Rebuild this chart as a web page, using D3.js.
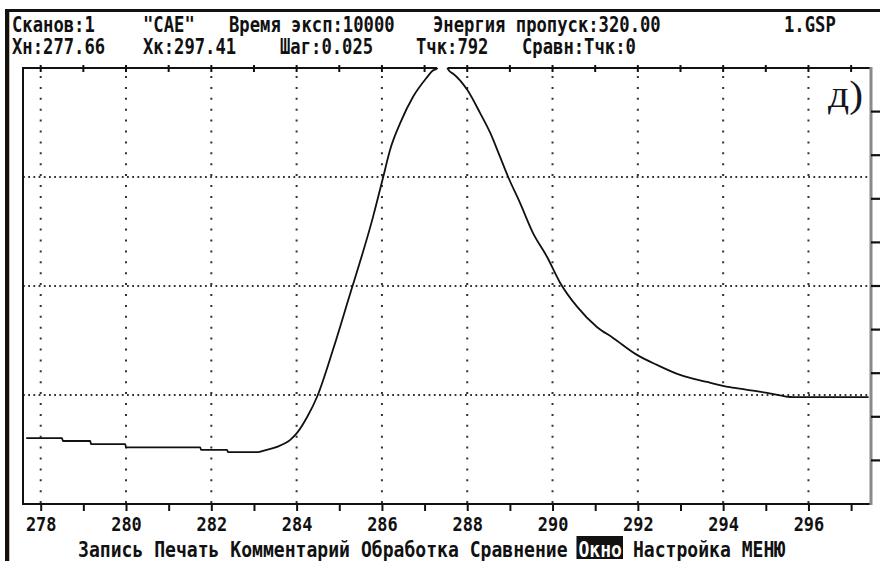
<!DOCTYPE html>
<html>
<head>
<meta charset="utf-8">
<script src="https://cdn.jsdelivr.net/npm/d3@7"></script>
<style>
  body { margin: 0; background: #fff; }
  svg text { font-family: "DejaVu Sans Mono", "Liberation Mono", monospace; font-weight: bold; }
</style>
</head>
<body>
<svg id="chart" width="880" height="561"></svg>
<script>
// Spectrum scan: energy (eV) against intensity in full-scale units (0–10)
const energy = [277.66, 278.50, 278.52, 279.16, 279.18, 279.98, 280.00, 281.74, 281.76, 282.37, 282.39, 283.10,
  283.21, 283.54, 283.85, 284.01, 284.25, 284.48, 284.85, 285.21, 285.79, 286.03, 286.19, 286.43,
  286.73, 287.06, 287.18, 287.29, 287.36, 287.45, 287.51, 287.58, 287.67, 288.00, 288.30, 288.54, 288.77,
  288.96, 289.24, 289.54, 289.87, 290.18, 290.58, 291.04, 291.42, 291.98, 292.45, 292.99, 293.62, 294.16,
  294.56, 295.03, 295.64, 297.41];
const intensity = [1.51, 1.51, 1.445, 1.445, 1.375, 1.375, 1.30, 1.30, 1.24, 1.24, 1.19, 1.19,
  1.22, 1.31, 1.47, 1.63, 2.00, 2.46, 3.53, 4.68, 6.58, 7.50, 8.12, 8.74,
  9.34, 9.79, 9.93, 9.99, 10.15, 10.20, 10.05, 9.93, 9.87, 9.50, 8.97, 8.51, 7.96,
  7.50, 6.90, 6.22, 5.67, 5.07, 4.52, 4.06, 3.81, 3.42, 3.19, 2.96, 2.80, 2.68,
  2.62, 2.55, 2.45, 2.45];

const xTickValues = d3.range(278, 298);          // minor ticks every 1 eV
const xLabelValues = d3.range(278, 298, 2);      // labelled ticks / vertical grid
const yGridValues = [2.5, 5, 7.5];               // dotted horizontal grid
const yTickValues = d3.range(1, 10);             // right-hand scale marks

const headerLine1 = [
  ["Сканов:1", 12], ["\"CAE\"", 143], ["Время эксп:10000", 229],
  ["Энергия пропуск:320.00", 433], ["1.GSP", 784]
];
const headerLine2 = [
  ["Хн:277.66", 12], ["Хк:297.41", 143], ["Шаг:0.025", 280],
  ["Тчк:792", 416], ["Сравн:Тчк:0", 522]
];
const menuItems = ["Запись", "Печать", "Комментарий", "Обработка", "Сравнение", "Окно", "Настройка", "МЕНЮ"];
const activeMenu = "Окно";
const panelLabel = "д)";

const svg = d3.select("#chart");
const frame = { left: 23, right: 871, top: 68, bottom: 504 };

const x = d3.scaleLinear().domain([277.66, 297.41]).range([26.2, 868.6]);
const y = d3.scaleLinear().domain([0, 10]).range([frame.bottom, frame.top]);

// Screen border
svg.append("line").attr("x1", 5).attr("x2", 880).attr("y1", 10.5).attr("y2", 10.5)
  .attr("stroke", "#111").attr("stroke-width", 3);
svg.append("line").attr("x1", 7).attr("x2", 7).attr("y1", 9).attr("y2", 561)
  .attr("stroke", "#111").attr("stroke-width", 4);
svg.append("line").attr("x1", 9.5).attr("x2", 9.5).attr("y1", 12).attr("y2", 561)
  .attr("stroke", "#c9b9a3").attr("stroke-width", 1);

// Fixed-pitch text, squeezed to the terminal character cell
function monoText(g, str, x0, yb, size, pitch, fill) {
  return g.append("text").attr("x", x0).attr("y", yb)
    .attr("font-size", size).attr("fill", fill || "#111")
    .attr("textLength", str.length * pitch).attr("lengthAdjust", "spacingAndGlyphs")
    .style("white-space", "pre").text(str);
}
const header = svg.append("g");
headerLine1.forEach(([s, x0]) => monoText(header, s, x0, 32, 21, 10.35));
headerLine2.forEach(([s, x0]) => monoText(header, s, x0, 54, 21, 10.35));

// Dotted grid
const grid = svg.append("g");
grid.selectAll("line.v").data(xLabelValues).join("line").attr("class", "v")
  .attr("x1", d => x(d)).attr("x2", d => x(d))
  .attr("y1", frame.top + 8).attr("y2", frame.bottom)
  .attr("stroke", "#333").attr("stroke-width", 2).attr("stroke-dasharray", "2,8.9");
grid.selectAll("line.h").data(yGridValues).join("line").attr("class", "h")
  .attr("x1", frame.left).attr("x2", frame.right)
  .attr("y1", d => y(d)).attr("y2", d => y(d))
  .attr("stroke", "#333").attr("stroke-width", 1.8).attr("stroke-dasharray", "1.8,3.4");

// Curve, clipped to the plotting window
svg.append("clipPath").attr("id", "plotClip").append("rect")
  .attr("x", frame.left).attr("y", frame.top).attr("width", frame.right - frame.left)
  .attr("height", frame.bottom - frame.top);
const pts = energy.map((e, i) => [e, intensity[i]]);
svg.append("path").datum(pts)
  .attr("clip-path", "url(#plotClip)")
  .attr("fill", "none").attr("stroke", "#111").attr("stroke-width", 1.8)
  .attr("d", d3.line().curve(d3.curveMonotoneX).x(d => x(d[0])).y(d => y(d[1])));

// Overflow span: where the signal exceeds full scale the top edge is left open
const ymax = y.domain()[1];
let gapStart = null, gapEnd = null;
for (let i = 1; i < pts.length; i++) {
  const [e0, v0] = pts[i - 1], [e1, v1] = pts[i];
  if (v0 <= ymax && v1 > ymax) gapStart = e0 + (e1 - e0) * (ymax - v0) / (v1 - v0);
  if (v0 > ymax && v1 <= ymax) gapEnd = e0 + (e1 - e0) * (v0 - ymax) / (v0 - v1);
}

// Frame
const fr = svg.append("g").attr("stroke", "#111").attr("stroke-width", 2);
fr.append("line").attr("x1", frame.left).attr("x2", frame.left).attr("y1", frame.top).attr("y2", frame.bottom + 1);
fr.append("line").attr("x1", frame.left - 1).attr("x2", x(gapStart)).attr("y1", frame.top).attr("y2", frame.top);
fr.append("line").attr("x1", x(gapEnd)).attr("x2", frame.right).attr("y1", frame.top).attr("y2", frame.top);
fr.append("line").attr("x1", frame.left - 1).attr("x2", frame.right).attr("y1", frame.bottom).attr("y2", frame.bottom);
svg.append("line").attr("x1", frame.right).attr("x2", frame.right).attr("y1", frame.top - 1).attr("y2", frame.bottom + 1)
  .attr("stroke", "#8a8a8a").attr("stroke-width", 3);

// Top tick marks
svg.append("g").selectAll("line").data(xTickValues).join("line")
  .attr("x1", d => x(d)).attr("x2", d => x(d)).attr("y1", frame.top - 3).attr("y2", frame.top + 4)
  .attr("stroke", "#111").attr("stroke-width", 2);

// Right-hand scale marks
svg.append("g").selectAll("line").data(yTickValues).join("line")
  .attr("x1", frame.right).attr("x2", 880).attr("y1", d => y(d)).attr("y2", d => y(d))
  .attr("stroke", "#111").attr("stroke-width", 2.2);

// Bottom axis
const axis = svg.append("g").attr("transform", `translate(0,${frame.bottom})`)
  .call(d3.axisBottom(x).tickValues(xTickValues).tickSize(7).tickPadding(6)
    .tickFormat(d => d % 2 === 0 ? d : ""));
axis.select(".domain").remove();
axis.selectAll(".tick line").attr("stroke", "#111").attr("stroke-width", 2);
axis.selectAll(".tick text").attr("fill", "#111").attr("font-size", 19)
  .attr("dy", null).attr("y", 27)
  .each(function(d) {
    if (d % 2 === 0) d3.select(this).attr("textLength", String(d).length * 10.2).attr("lengthAdjust", "spacingAndGlyphs");
  });

// Panel label
svg.append("text").attr("x", 828).attr("y", 107).text(panelLabel)
  .style("font-family", "'Liberation Serif', 'Times New Roman', serif").style("font-weight", "normal")
  .attr("font-size", 37).attr("fill", "#141423")
  .attr("textLength", 35).attr("lengthAdjust", "spacingAndGlyphs");

// Menu bar
const menuPitch = 10.88, menuX = 78, menuY = 557;
let col = 0;
const menu = svg.append("g");
menuItems.forEach(item => {
  const x0 = menuX + col * menuPitch;
  if (item === activeMenu) {
    menu.append("rect").attr("x", x0 - 2).attr("y", 536).attr("width", item.length * menuPitch + 3)
      .attr("height", 23).attr("fill", "#111");
    monoText(menu, item, x0, menuY, 21, menuPitch, "#fff");
  } else {
    monoText(menu, item, x0, menuY, 21, menuPitch);
  }
  col += item.length + 1;
});
</script>
</body>
</html>
